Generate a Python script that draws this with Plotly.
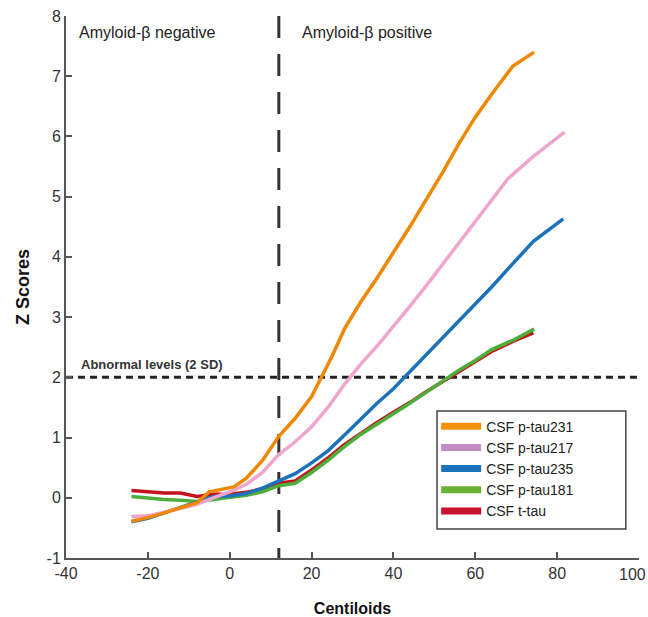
import plotly.graph_objects as go

# ---- data ----
x_231 = [-24, -20, -16, -12, -8, -5, -2, 1, 4, 8, 12, 16, 20, 22.5, 25, 28, 32, 36, 40, 44, 48, 52, 56, 60, 64, 69.2, 74.4]
y_231 = [-0.39, -0.33, -0.25, -0.17, -0.08, 0.10, 0.14, 0.18, 0.32, 0.62, 1.02, 1.32, 1.68, 2.0, 2.35, 2.8, 3.25, 3.65, 4.07, 4.5, 4.95, 5.4, 5.88, 6.32, 6.7, 7.17, 7.40]

x_217 = [-24, -20, -16, -12, -8, -4, 0, 4, 8, 12, 16, 20, 24, 28, 32, 36, 40, 44, 48, 52, 56, 60, 64, 68, 74.2, 81.8]
y_217 = [-0.31, -0.30, -0.24, -0.18, -0.11, 0.0, 0.10, 0.22, 0.42, 0.72, 0.93, 1.18, 1.50, 1.88, 2.22, 2.52, 2.84, 3.18, 3.52, 3.88, 4.22, 4.58, 4.94, 5.30, 5.67, 6.07]

x_235 = [-24, -20, -16, -12, -8, -4, 0, 4, 8, 12, 16, 20, 24, 28, 32, 36, 40, 44, 48, 52, 56, 60, 64, 68, 74.2, 81.5]
y_235 = [-0.40, -0.34, -0.25, -0.16, -0.08, 0.02, 0.03, 0.07, 0.16, 0.28, 0.40, 0.58, 0.78, 1.04, 1.31, 1.57, 1.81, 2.09, 2.37, 2.66, 2.94, 3.22, 3.50, 3.80, 4.26, 4.63]

x_181 = [-24, -20, -16, -12, -8, -4, 0, 4, 8, 12, 16, 20, 24, 28, 32, 36, 40, 44, 48, 52, 56, 60, 64, 69.3, 74.4]
y_181 = [0.02, -0.01, -0.03, -0.04, -0.06, -0.03, 0.0, 0.04, 0.10, 0.20, 0.24, 0.42, 0.62, 0.85, 1.05, 1.22, 1.39, 1.57, 1.75, 1.93, 2.12, 2.28, 2.46, 2.62, 2.80]

x_tt = [-24, -20, -16, -12, -8, -4, 0, 4, 8, 12, 16, 20, 24, 28, 32, 36, 40, 44, 48, 52, 56, 60, 64, 69.3, 74.2]
y_tt = [0.12, 0.10, 0.08, 0.08, 0.02, 0.06, 0.06, 0.09, 0.15, 0.24, 0.28, 0.46, 0.66, 0.88, 1.07, 1.25, 1.42, 1.58, 1.76, 1.93, 2.10, 2.27, 2.43, 2.60, 2.74]

names = ["CSF p-tau231", "CSF p-tau217", "CSF p-tau235", "CSF p-tau181", "CSF t-tau"]
line_colors = ["#F08700", "#EFA6CC", "#1B72BA", "#4DAE3A", "#C4121E"]
legend_colors = ["#F29100", "#C08CC2", "#1C75BC", "#6AAF35", "#C8102E"]

x_ticks = [-40, -20, 0, 20, 40, 60, 80, 100]
x_ticklabels = ["-40", "-20", "0", "20", "40", "60", "80", "100"]
y_ticks = [-1, 0, 1, 2, 3, 4, 5, 6, 7, 8]
y_ticklabels = ["-1", "0", "1", "2", "3", "4", "5", "6", "7", "8"]

amyloid_cutoff = 12
abnormal_level = 2

series = [(x_231, y_231), (x_217, y_217), (x_235, y_235), (x_181, y_181), (x_tt, y_tt)]

fig = go.Figure()

# reference lines
fig.add_trace(go.Scatter(x=[-40, 100], y=[abnormal_level, abnormal_level], mode="lines",
                         line=dict(color="#222222", width=3, dash="7px,5px"),
                         showlegend=False, hoverinfo="skip"))
fig.add_trace(go.Scatter(x=[amyloid_cutoff, amyloid_cutoff], y=[8, -1], mode="lines",
                         line=dict(color="#333333", width=3, dash="22px,16px"),
                         showlegend=False, hoverinfo="skip"))

# data lines (draw in reverse so p-tau231 on top)
for (xs, ys), n, c in reversed(list(zip(series, names, line_colors))):
    fig.add_trace(go.Scatter(x=xs, y=ys, mode="lines", name=n,
                             line=dict(color=c, width=3.5), showlegend=False))

# legend entries
for n, c in zip(names, legend_colors):
    fig.add_trace(go.Scatter(x=[None], y=[None], mode="lines", name=n,
                             line=dict(color=c, width=7)))

fig.add_annotation(x=-37.2, y=7.72, text="Amyloid-β negative", showarrow=False,
                   xanchor="left", yanchor="middle", font=dict(size=16, color="#222"))
fig.add_annotation(x=17.2, y=7.72, text="Amyloid-β positive", showarrow=False,
                   xanchor="left", yanchor="middle", font=dict(size=16, color="#222"))
fig.add_annotation(x=-36.8, y=2.21, text="<b>Abnormal levels (2 SD)</b>", showarrow=False,
                   xanchor="left", yanchor="middle", font=dict(size=13, color="#333"))

# last x tick label, kept inside the page (as in the reference)
fig.add_annotation(x=x_ticks[-1], xref="x", y=0, yref="paper", text=x_ticklabels[-1],
                   showarrow=False, xanchor="right", yanchor="top", xshift=9, yshift=-6,
                   font=dict(size=16, color="#333"))
x_ticktext_axis = x_ticklabels[:-1] + [""]

# legend frame
fig.add_shape(type="rect", xref="paper", yref="paper",
              x0=0.6475, x1=0.977, y0=0.0535, y1=0.271,
              line=dict(color="#444", width=1.5), fillcolor="rgba(0,0,0,0)", layer="above")

fig.update_layout(
    width=648, height=617,
    margin=dict(l=66, r=9, t=16, b=59, autoexpand=False),
    paper_bgcolor="white", plot_bgcolor="white",
    font=dict(family="Liberation Sans, Arial, sans-serif", color="#333"),
    showlegend=True,
    legend=dict(x=0.646, y=0.272, xanchor="left", yanchor="top",
                borderwidth=0, bgcolor="rgba(255,255,255,0)",
                font=dict(size=14, color="#222"), itemwidth=40,
                tracegroupgap=0, traceorder="normal"),
)
fig.update_xaxes(range=[-40, 100], tickvals=x_ticks, ticktext=x_ticktext_axis,
                 showgrid=False, zeroline=False, automargin=False,
                 showline=True, linecolor="#555", linewidth=2,
                 ticks="inside", ticklen=6, tickwidth=1.5, tickcolor="#555",
                 tickfont=dict(size=16, color="#333"),
                 title=dict(text="<b>Centiloids</b>", font=dict(size=16, color="#111"), standoff=23))
fig.update_yaxes(range=[-1, 8], tickvals=y_ticks, ticktext=y_ticklabels,
                 showgrid=False, zeroline=False, automargin=False,
                 showline=True, linecolor="#555", linewidth=2,
                 ticks="inside", ticklen=6, tickwidth=1.5, tickcolor="#555",
                 tickfont=dict(size=16, color="#333"),
                 title=dict(text="<b>Z Scores</b>", font=dict(size=18, color="#111"), standoff=12))

fig.write_html("out.html")
